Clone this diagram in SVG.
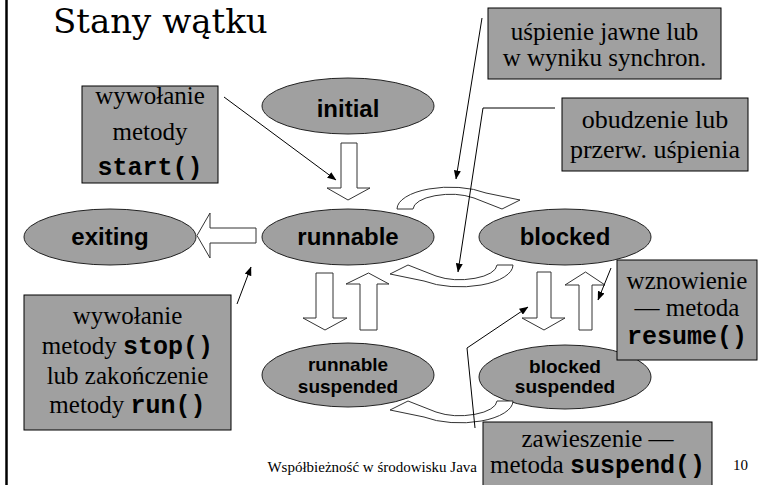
<svg xmlns="http://www.w3.org/2000/svg" width="760" height="485" viewBox="0 0 760 485">
<defs>
<style>
.box{fill:#a0a0a0;stroke:#000;stroke-width:1}
.st{fill:#a0a0a0;stroke:#222;stroke-width:1}
.bt{font-family:"Liberation Serif","Times New Roman",serif;font-size:25px;fill:#000;text-anchor:middle}
.mono{font-family:"Liberation Mono","Courier New",monospace;font-weight:bold;font-size:25px}
.lab{font-family:"Liberation Sans",Arial,sans-serif;font-weight:bold;font-size:24px;fill:#000;text-anchor:middle}
.lab2{font-family:"Liberation Sans",Arial,sans-serif;font-weight:bold;font-size:19px;fill:#000;text-anchor:middle}
.blk{fill:#fff;stroke:#333;stroke-width:1}
.ln{fill:none;stroke:#000;stroke-width:1}
</style>
<marker id="ah" markerWidth="9" markerHeight="7" refX="8.5" refY="3.5" orient="auto" markerUnits="userSpaceOnUse">
<path d="M0,0 L9,3.5 L0,7 Z" fill="#000"/>
</marker>
<path id="carc" d="M513,265 A53,22 0 0 1 424,281 L390,274 L408,265 L436,276 A37,15 0 0 0 497,265 Z"/>
</defs>
<rect width="760" height="485" fill="#fff"/>
<line x1="6.5" y1="0" x2="6.5" y2="485" stroke="#000" stroke-width="2.5"/>
<text x="53" y="33" font-family="DejaVu Serif, 'Liberation Serif', serif" font-size="34" fill="#000">Stany wątku</text>

<g id="initial"><ellipse class="st" cx="348" cy="106" rx="86" ry="28"/><text class="lab" x="348" y="117">initial</text></g>
<g id="exiting"><ellipse class="st" cx="110" cy="237" rx="86" ry="28"/><text class="lab" x="110" y="245">exiting</text></g>
<g id="runnable"><ellipse class="st" cx="348" cy="237" rx="86" ry="28"/><text class="lab" x="348" y="245">runnable</text></g>
<g id="blocked"><ellipse class="st" cx="565" cy="237" rx="86" ry="28"/><text class="lab" x="565" y="245">blocked</text></g>
<g id="runnable-suspended"><ellipse class="st" cx="348" cy="375" rx="86" ry="32"/><text class="lab2" x="348" y="371">runnable</text><text class="lab2" x="348" y="393">suspended</text></g>
<g id="blocked-suspended"><ellipse class="st" cx="565" cy="377" rx="86" ry="32"/><text class="lab2" x="565" y="373">blocked</text><text class="lab2" x="565" y="393">suspended</text></g>

<g id="box-start"><rect class="box" x="82" y="86" width="136" height="97"/>
<text class="bt" x="150" y="104">wywołanie</text><text class="bt" x="150" y="140">metody</text><text class="bt mono" x="150" y="175">start()</text></g>
<g id="box-sleep"><rect class="box" x="488" y="8" width="233" height="71"/>
<text class="bt" x="604.5" y="40" font-size="24">uśpienie jawne lub</text><text class="bt" x="604.5" y="66" font-size="24">w wyniku synchron.</text></g>
<g id="box-wake"><rect class="box" x="562" y="98" width="186" height="73"/>
<text class="bt" x="655" y="128" style="font-size:26px">obudzenie lub</text><text class="bt" x="655" y="158" style="font-size:26px">przerw. uśpienia</text></g>
<g id="box-resume"><rect class="box" x="617" y="260" width="140" height="100"/>
<text class="bt" x="687" y="289">wznowienie</text><text class="bt" x="687" y="316">— metoda</text><text class="bt mono" x="687" y="344">resume()</text></g>
<g id="box-stop"><rect class="box" x="24" y="295" width="207" height="135"/>
<text class="bt" x="127.5" y="324">wywołanie</text>
<text class="bt" x="127.5" y="354">metody <tspan class="mono">stop()</tspan></text>
<text class="bt" x="127.5" y="384">lub zakończenie</text>
<text class="bt" x="127.5" y="413">metody <tspan class="mono">run()</tspan></text></g>
<g id="box-suspend"><rect class="box" x="483" y="422" width="229" height="75"/>
<text class="bt" x="597.5" y="447">zawieszenie —</text>
<text class="bt" x="597.5" y="473">metoda <tspan class="mono">suspend()</tspan></text></g>

<g id="transitions">
<polygon class="blk" points="341,143 357,143 357,188 370,188 348,200 327,188 341,188"/>
<polygon class="blk" points="256,228 256,243 210,243 210,258 197,235.5 210,213 210,228"/>
<polygon class="blk" points="316,273 333,273 333,318 347,318 325,330 303,318 316,318"/>
<polygon class="blk" points="360,330 377,330 377,284 389,284 368.5,273 346,284 360,284"/>
<polygon class="blk" points="537,272 551,272 551,318 565,318 544,330 522,318 537,318"/>
<polygon class="blk" points="579,330 592,330 592,285 605,285 585.5,272 565,285 579,285"/>
<use href="#carc" class="blk" transform="rotate(180 455 237)"/>
<use href="#carc" class="blk"/>
<use href="#carc" class="blk" transform="translate(0 136)"/>
</g>

<g id="connectors">
<line class="ln" x1="224" y1="97" x2="336" y2="180" marker-end="url(#ah)"/>
<line class="ln" x1="482" y1="18" x2="456" y2="179" marker-end="url(#ah)"/>
<polyline class="ln" points="555,108 483,108 458,272" marker-end="url(#ah)"/>
<line class="ln" x1="237" y1="304" x2="251" y2="267" marker-end="url(#ah)"/>
<line class="ln" x1="611" y1="268" x2="598" y2="300" marker-end="url(#ah)"/>
<polyline class="ln" points="475,428 467,348 528,307" marker-end="url(#ah)"/>
</g>

<text x="477" y="472" text-anchor="end" font-family="'Liberation Serif','Times New Roman',serif" font-size="15" fill="#000">Współbieżność w środowisku Java</text>
<text x="733" y="470" font-family="'Liberation Serif','Times New Roman',serif" font-size="15" fill="#000">10</text>
</svg>
